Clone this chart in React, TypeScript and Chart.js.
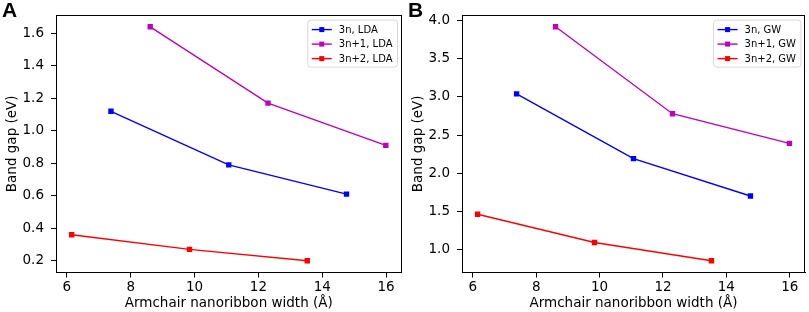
import React, { useEffect, useRef } from "react";
import { Chart, registerables } from "chart.js";

Chart.register(...registerables);

// ---- data ----
const widths3n = [7.38, 11.07, 14.76];
const widths3n1 = [8.61, 12.3, 15.99];
const widths3n2 = [6.15, 9.84, 13.53];

const lda3n = [1.12, 0.79, 0.61];
const lda3n1 = [1.64, 1.17, 0.91];
const lda3n2 = [0.36, 0.27, 0.2];

const gw3n = [3.04, 2.19, 1.7];
const gw3n1 = [3.92, 2.78, 2.39];
const gw3n2 = [1.46, 1.09, 0.85];

const xTicks = [6, 8, 10, 12, 14, 16];
const yTicksLDA = [0.2, 0.4, 0.6, 0.8, 1.0, 1.2, 1.4, 1.6];
const yTicksGW = [1.0, 1.5, 2.0, 2.5, 3.0, 3.5, 4.0];

const labelsLDA = ["3n, LDA", "3n+1, LDA", "3n+2, LDA"];
const labelsGW = ["3n, GW", "3n+1, GW", "3n+2, GW"];

const COLORS = ["#0000ff", "#bf00bf", "#ff0000"];
const FONT = "'DejaVu Sans', sans-serif";

const toPts = (xs: number[], ys: number[]) => xs.map((x, i) => ({ x, y: ys[i] }));

function makeDatasets(labels: string[], ys: number[][]) {
  const xs = [widths3n, widths3n1, widths3n2];
  return labels.map((label, i) => ({
    label,
    data: toPts(xs[i], ys[i]),
    borderColor: COLORS[i],
    backgroundColor: COLORS[i],
    pointBackgroundColor: COLORS[i],
    pointBorderWidth: 0,
    borderWidth: 1.4,
    pointStyle: "rect" as const,
    pointRadius: 3.8,
    tension: 0,
  }));
}

const framePlugin = (panelLabel: string) => ({
  id: "frame" + panelLabel,
  afterDraw(chart: any) {
    const { ctx, chartArea } = chart;
    const l = Math.round(chart.chartArea.left) + 0.5;
    const t = Math.round(chartArea.top) + 0.5;
    const r = Math.round(chartArea.right) - 0.5;
    const b = Math.round(chartArea.bottom) - 0.5;
    ctx.save();
    ctx.strokeStyle = "#000";
    ctx.lineWidth = 1;
    ctx.strokeRect(l, t, r - l, b - t);

    // legend
    ctx.font = `10px ${FONT}`;
    const ds = chart.data.datasets;
    let tw = 0;
    ds.forEach((d: any) => (tw = Math.max(tw, ctx.measureText(d.label).width)));
    const boxW = 4 + 20 + 7 + tw + 5;
    const boxH = 47;
    const bx = chartArea.right - 4 - boxW;
    const by = chartArea.top + 5;
    ctx.beginPath();
    const rr = 3;
    ctx.moveTo(bx + rr, by);
    ctx.lineTo(bx + boxW - rr, by);
    ctx.quadraticCurveTo(bx + boxW, by, bx + boxW, by + rr);
    ctx.lineTo(bx + boxW, by + boxH - rr);
    ctx.quadraticCurveTo(bx + boxW, by + boxH, bx + boxW - rr, by + boxH);
    ctx.lineTo(bx + rr, by + boxH);
    ctx.quadraticCurveTo(bx, by + boxH, bx, by + boxH - rr);
    ctx.lineTo(bx, by + rr);
    ctx.quadraticCurveTo(bx, by, bx + rr, by);
    ctx.closePath();
    ctx.fillStyle = "rgba(255,255,255,0.85)";
    ctx.fill();
    ctx.strokeStyle = "#d8d8d8";
    ctx.lineWidth = 1;
    ctx.stroke();
    ds.forEach((d: any, i: number) => {
      const cy = by + 9.5 + i * 14.5;
      const lx = bx + 4;
      ctx.strokeStyle = d.borderColor;
      ctx.lineWidth = 1.4;
      ctx.beginPath();
      ctx.moveTo(lx, cy);
      ctx.lineTo(lx + 20, cy);
      ctx.stroke();
      ctx.fillStyle = d.borderColor;
      ctx.fillRect(lx + 10 - 2.5, cy - 2.5, 5, 5);
      ctx.fillStyle = "#000";
      ctx.textBaseline = "middle";
      ctx.textAlign = "left";
      ctx.fillText(d.label, lx + 27, cy + 0.5);
    });

    // panel label
    ctx.font = `bold 21px 'Liberation Sans', Arial, sans-serif`;
    ctx.fillStyle = "#000";
    ctx.textBaseline = "alphabetic";
    ctx.textAlign = "left";
    ctx.fillText(panelLabel, 2, 17);
    ctx.restore();
  },
});

function Panel(props: {
  labels: string[];
  ys: number[][];
  yMin: number;
  yMax: number;
  yTicks: number[];
  panelLabel: string;
  width: number;
  rightPad: number;
}) {
  const ref = useRef<HTMLCanvasElement>(null);
  useEffect(() => {
    const chart = new Chart(ref.current!, {
      type: "line",
      data: { datasets: makeDatasets(props.labels, props.ys) as any },
      options: {
        animation: false,
        responsive: false,
        devicePixelRatio: 1,
        layout: { padding: { top: 15, right: props.rightPad, left: 0, bottom: 0 } },
        plugins: { legend: { display: false }, tooltip: { enabled: false } },
        scales: {
          x: {
            type: "linear",
            min: 5.658,
            max: 16.482,
            afterBuildTicks: (s: any) => {
              s.ticks = xTicks.map((v) => ({ value: v }));
            },
            afterFit: (s: any) => {
              s.height = 39.5;
            },
            grid: { display: true, drawOnChartArea: false, drawTicks: true, tickLength: 5, color: "#000" },
            border: { display: true, color: "#000" },
            ticks: {
              color: "#000",
              font: { family: FONT, size: 13.5 },
              padding: 2,
              maxRotation: 0,
              callback: (v: any) => String(v),
            },
            title: {
              display: true,
              text: "Armchair nanoribbon width (Å)",
              color: "#000",
              font: { family: FONT, size: 13.5 },
              padding: 0,
            },
          },
          y: {
            type: "linear",
            min: props.yMin,
            max: props.yMax,
            afterBuildTicks: (s: any) => {
              s.ticks = props.yTicks.map((v) => ({ value: v }));
            },
            afterFit: (s: any) => {
              s.width = 56;
            },
            grid: { display: true, drawOnChartArea: false, drawTicks: true, tickLength: 5, color: "#000" },
            border: { display: true, color: "#000" },
            ticks: {
              color: "#000",
              font: { family: FONT, size: 13.5 },
              padding: 7,
              callback: (v: any) => Number(v).toFixed(1),
            },
            title: {
              display: true,
              text: "Band gap (eV)",
              color: "#000",
              font: { family: FONT, size: 13.5 },
              padding: { top: 4, bottom: 0 },
            },
          },
        },
      },
      plugins: [framePlugin(props.panelLabel)],
    });
    return () => chart.destroy();
  }, []);
  return <canvas ref={ref} width={props.width} height={312} style={{ display: "block" }} />;
}

export default function App() {
  return (
    <div
      style={{
        position: "absolute",
        left: 0,
        top: 0,
        width: 809,
        height: 312,
        background: "#fff",
        display: "flex",
      }}
    >
      <Panel
        labels={labelsLDA}
        ys={[lda3n, lda3n1, lda3n2]}
        yMin={0.128}
        yMax={1.712}
        yTicks={yTicksLDA}
        panelLabel="A"
        width={406}
        rightPad={4.5}
      />
      <Panel
        labels={labelsGW}
        ys={[gw3n, gw3n1, gw3n2]}
        yMin={0.6965}
        yMax={4.0735}
        yTicks={yTicksGW}
        panelLabel="B"
        width={403}
        rightPad={2}
      />
    </div>
  );
}
